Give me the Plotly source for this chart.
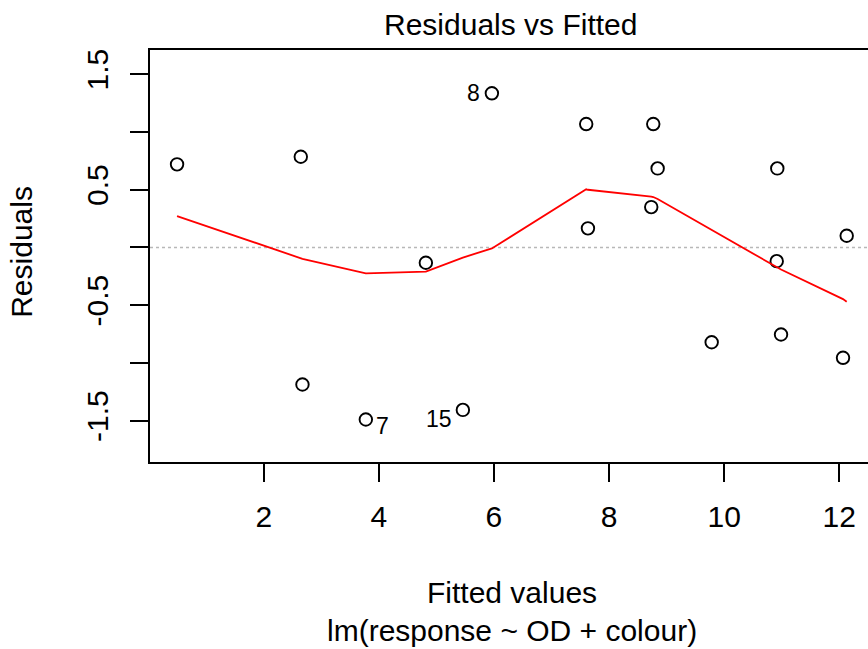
import plotly.graph_objects as go

# Data
fitted = [0.494, 2.644, 2.673, 3.774, 4.817, 5.460, 5.964, 7.603, 7.633,
          8.733, 8.768, 8.844, 9.783, 10.913, 10.923, 10.988, 12.065, 12.129]
resid = [0.719, 0.785, -1.187, -1.490, -0.133, -1.407, 1.334, 1.068, 0.165,
         0.349, 1.068, 0.684, -0.821, -0.119, 0.684, -0.754, -0.956, 0.101]
smooth_x = [0.494, 2.644, 2.673, 3.774, 4.817, 5.460, 5.964, 7.603, 7.633,
            8.733, 8.768, 8.844, 9.783, 10.913, 10.923, 10.988, 12.065, 12.129]
smooth_y = [0.271, -0.095, -0.099, -0.225, -0.210, -0.088, -0.009, 0.503, 0.499,
            0.440, 0.436, 0.419, 0.150, -0.168, -0.171, -0.192, -0.448, -0.471]
labels = ["8", "7", "15"]
label_x = [5.964, 3.774, 5.460]
label_y = [1.334, -1.490, -1.407]

x_ticks = [2, 4, 6, 8, 10, 12]
y_ticks = [-1.5, -1.0, -0.5, 0.0, 0.5, 1.0, 1.5]
y_ticktext = ["-1.5", "", "-0.5", "", "0.5", "", "1.5"]

FONT = "Liberation Sans, Arial, sans-serif"
FS = 30

# plot-area geometry in pixels (reference)
L, R, T, B = 150.3, 868.0, 50.0, 461.7
W, H = R - L, B - T


def px_x(px):
    return (px - L) / W


def px_y(py):
    return (B - py) / H


fig = go.Figure()
fig.add_trace(go.Scatter(
    x=fitted, y=resid, mode="markers",
    marker=dict(symbol="circle-open", size=12.5, color="black",
                line=dict(width=1.9, color="black")),
    showlegend=False, hoverinfo="skip"))
fig.add_trace(go.Scatter(
    x=smooth_x, y=smooth_y, mode="lines",
    line=dict(color="red", width=1.8), showlegend=False, hoverinfo="skip"))

# dotted zero line
fig.add_shape(type="line", xref="paper", yref="y", x0=0, x1=1, y0=0, y1=0,
              line=dict(color="#b8b8b8", width=1.5, dash="3px,3px"), layer="below")

# point labels
label_opts = [
    dict(xanchor="right", xshift=-10, yshift=0),
    dict(xanchor="left", xshift=8, yshift=-7),
    dict(xanchor="right", xshift=-9, yshift=-9),
]
for t, lx, ly, o in zip(labels, label_x, label_y, label_opts):
    fig.add_annotation(x=lx, y=ly, text=t, showarrow=False,
                       font=dict(family=FONT, size=23, color="black"),
                       xanchor=o["xanchor"], yanchor="middle",
                       xshift=o["xshift"], yshift=o["yshift"])

# titles
fig.add_annotation(xref="paper", yref="paper", x=px_x(511), y=px_y(25), yanchor="middle",
                   text="Residuals vs Fitted", showarrow=False,
                   font=dict(family=FONT, size=FS, color="black"))
fig.add_annotation(xref="paper", yref="paper", x=px_x(512), y=px_y(592), yanchor="middle",
                   text="Fitted values", showarrow=False,
                   font=dict(family=FONT, size=FS, color="black"))
fig.add_annotation(xref="paper", yref="paper", x=px_x(512), y=px_y(630), yanchor="middle",
                   text="lm(response ~ OD + colour)", showarrow=False,
                   font=dict(family=FONT, size=FS, color="black"))
fig.add_annotation(xref="paper", yref="paper", x=px_x(22), y=px_y(252),
                   xanchor="center", yanchor="middle",
                   text="Residuals", textangle=-90, showarrow=False,
                   font=dict(family=FONT, size=FS, color="black"))

fig.update_layout(
    width=868, height=649,
    margin=dict(l=L, r=0, t=T, b=649 - B, pad=0),
    paper_bgcolor="white", plot_bgcolor="white",
    font=dict(family=FONT, size=FS, color="black"),
    xaxis=dict(range=[0.024, 12.499], tickvals=x_ticks, ticks="outside", ticklen=18,
               tickwidth=1.8, tickcolor="black", showline=True, linecolor="black",
               linewidth=1.8, mirror=True, showgrid=False, zeroline=False,
               tickfont=dict(family=FONT, size=FS, color="black"), ticklabelstandoff=9),
    yaxis=dict(range=[-1.858, 1.709], tickvals=y_ticks, ticktext=y_ticktext,
               ticks="outside", ticklen=18, tickwidth=1.8, tickcolor="black",
               showline=True, linecolor="black", linewidth=1.8, mirror=False,
               showgrid=False, zeroline=False, tickangle=-90,
               tickfont=dict(family=FONT, size=FS, color="black"), ticklabelstandoff=10),
)

fig.write_html("out.html")
